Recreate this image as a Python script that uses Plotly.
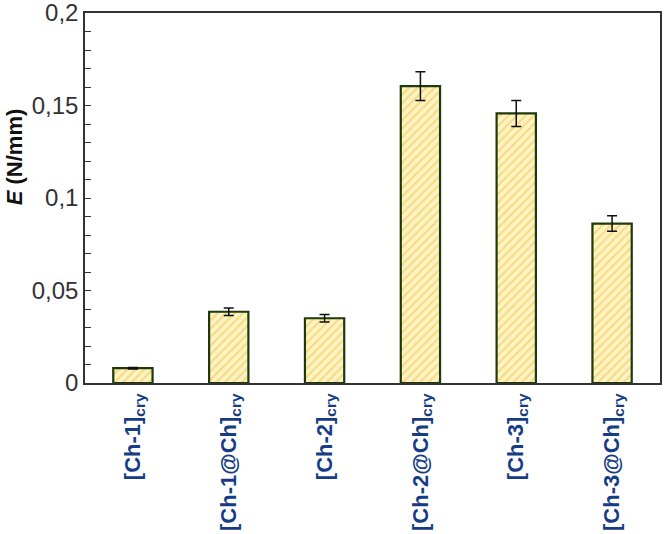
import plotly.graph_objects as go

categories = ["[Ch-1]<sub>cry</sub>", "[Ch-1@Ch]<sub>cry</sub>", "[Ch-2]<sub>cry</sub>",
              "[Ch-2@Ch]<sub>cry</sub>", "[Ch-3]<sub>cry</sub>", "[Ch-3@Ch]<sub>cry</sub>"]
values = [0.008, 0.0385, 0.035, 0.1605, 0.1457, 0.0862]
errors = [0.0004, 0.002, 0.002, 0.0078, 0.007, 0.0042]
y_ticks = [0, 0.05, 0.1, 0.15, 0.2]
y_tick_labels = ["0", "0,05", "0,1", "0,15", "0,2"]
y_title = "<b><i>E</i> (N/mm)</b>"

fig = go.Figure()
fig.add_trace(go.Bar(
    x=list(range(len(categories))),
    y=values,
    width=0.41,
    marker=dict(
        color="#fdf3c4",
        line=dict(color="#1c3a0c", width=2.2),
        pattern=dict(shape="/", fgcolor="#f2c23a", bgcolor="#fdf3c4", size=6, solidity=0.35),
    ),
    error_y=dict(type="data", array=errors, visible=True, color="#111111", thickness=1.5, width=5),
))

fig.update_layout(
    width=665, height=534,
    margin=dict(l=85, r=5, t=13, b=151),
    plot_bgcolor="white", paper_bgcolor="white",
    showlegend=False,
    font=dict(family="Liberation Sans, Arial, sans-serif"),
)
fig.add_annotation(
    text=y_title, xref="paper", yref="y", x=0, y=0.122,
    xanchor="center", yanchor="middle", xshift=-71, textangle=-90,
    showarrow=False, font=dict(size=22, color="#111111"),
)
fig.update_xaxes(
    range=[-0.5, 5.5],
    tickvals=list(range(len(categories))),
    ticktext=["<b>" + c + "</b>" for c in categories],
    tickangle=-90,
    tickfont=dict(size=22, color="#173c86"),
    automargin=False, ticklabeloverflow="allow",
    showline=True, linecolor="#333333", linewidth=1.5, mirror=True,
    ticks="", showgrid=False, zeroline=False,
)
fig.update_yaxes(
    range=[0, 0.2],
    tickvals=y_ticks, ticktext=y_tick_labels,
    tickfont=dict(size=24, color="#333333"),
    automargin=False, ticklabeloverflow="allow",
    ticks="inside", ticklen=6, tickcolor="#333333",
    minor=dict(dtick=0.01, ticks="inside", ticklen=6, tickcolor="#333333"),
    showline=True, linecolor="#333333", linewidth=1.5, mirror=True,
    showgrid=False, zeroline=False,
)

fig.write_html("out.html")
